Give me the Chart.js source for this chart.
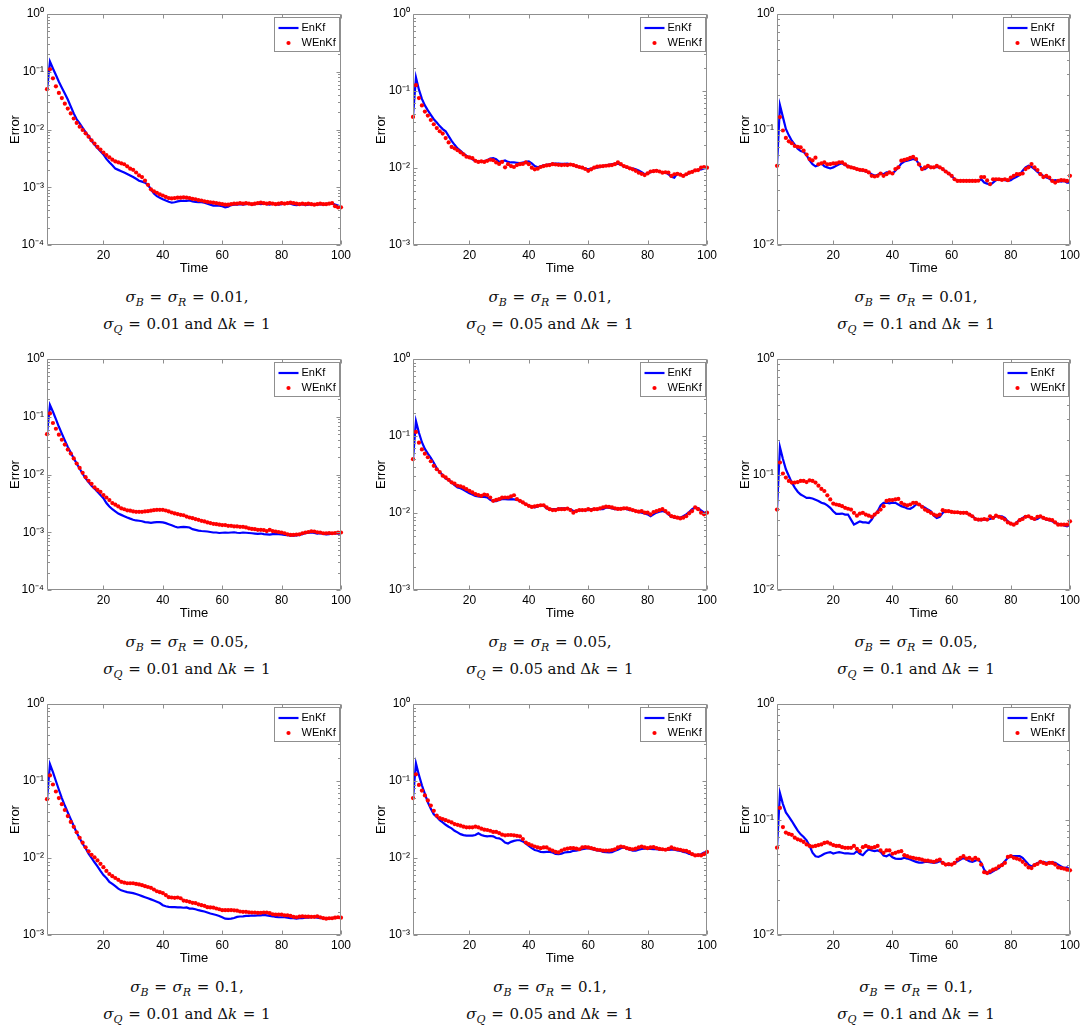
<!DOCTYPE html>
<html lang="en">
<head>
  <meta charset="UTF-8">
  <title>EnKf vs WEnKf error</title>
  <script src="https://cdn.jsdelivr.net/npm/chart.js"></script>
  <style>
    body { margin: 0; background: #fff; }
    #page { position: relative; width: 1082px; height: 1030px; }
    .panel { position: absolute; width: 360px; height: 282px; }
    .cap { position: absolute; width: 360px; text-align: center;
           font-family: "DejaVu Serif", serif; font-size: 15px; line-height: 27px; color: #111; }
    .cap sub { font-size: 11px; vertical-align: -4px; line-height: 0; font-style: italic; }
    .cap .rel { margin: 0 0.38em; }
    .cap .txt { margin: 0 0.3em; }
  </style>
</head>
<body>
<div id="page"></div>
<script>
  // time steps (x axis)
  const time = Array.from({ length: 100 }, (_, i) => i + 1);
  const xTicks = [20, 40, 60, 80, 100];
  const yDecades = [1, 0.1, 0.01, 0.001, 0.0001];
  const yTickLabels = ['10⁰', '10⁻¹', '10⁻²', '10⁻³', '10⁻⁴'];

  // caption parameters
  const sigmaBR = ['0.01', '0.05', '0.1'];   // rows
  const sigmaQ = ['0.01', '0.05', '0.1'];    // columns

  // row 1
  const enkf1 = [0.048,0.15,0.114,0.088,0.067,0.053,0.042,0.033,0.025,0.019,
    0.015,0.0128,0.0107,0.009,0.0076,0.0064,0.0055,0.0048,0.0042,0.0037,
    0.0031,0.0027,0.0024,0.0021,0.002,0.0019,0.0018,0.0017,0.0016,0.0015,
    0.0014,0.0013,0.00125,0.0012,0.0011,0.00092,0.00078,0.0007,0.00066,0.00062,
    0.00059,0.00056,0.00054,0.00055,0.00057,0.00058,0.00058,0.00058,0.00059,0.00057,
    0.00056,0.00055,0.00055,0.00054,0.00052,0.0005,0.00048,0.00048,0.00048,0.00047,
    0.00045,0.00046,0.00049,0.0005,0.0005,0.00051,0.0005,0.00051,0.00052,0.0005,
    0.00051,0.00052,0.00051,0.00052,0.00051,0.0005,0.00052,0.00051,0.0005,0.00051,
    0.00052,0.00053,0.00052,0.0005,0.00049,0.0005,0.00051,0.00049,0.0005,0.00051,
    0.0005,0.0005,0.00051,0.0005,0.00051,0.00052,0.00053,0.0005,0.00048,0.00046];
  const wenkf1 = [0.05,0.11,0.077,0.056,0.043,0.035,0.028,0.023,0.019,0.0155,
    0.013,0.0112,0.0098,0.0086,0.0075,0.0065,0.0057,0.005,0.0045,0.004,
    0.0036,0.0033,0.003,0.0028,0.0027,0.0026,0.0025,0.0023,0.0021,0.002,
    0.0018,0.0016,0.0015,0.0013,0.0011,0.00092,0.00085,0.0008,0.00075,0.00072,
    0.00068,0.00065,0.00064,0.00065,0.00066,0.00066,0.00067,0.00066,0.00065,0.00063,
    0.00062,0.0006,0.00059,0.00057,0.00056,0.00055,0.00054,0.00053,0.00052,0.00051,
    0.0005,0.0005,0.00051,0.00052,0.00052,0.00053,0.00052,0.00053,0.00052,0.00051,
    0.00052,0.00053,0.00054,0.00053,0.00052,0.00053,0.00052,0.00051,0.00052,0.00053,
    0.00052,0.00053,0.00054,0.00053,0.00052,0.00051,0.00052,0.00051,0.00052,0.00051,
    0.0005,0.00051,0.00052,0.00051,0.00051,0.00052,0.00053,0.00047,0.00045,0.00045];

  const enkf2 = [0.047,0.15,0.104,0.079,0.065,0.056,0.049,0.043,0.039,0.035,
    0.032,0.03,0.026,0.0225,0.02,0.018,0.0167,0.0154,0.0145,0.0137,
    0.013,0.0124,0.0123,0.0122,0.0123,0.0126,0.0133,0.0134,0.013,0.012,
    0.0122,0.0125,0.012,0.0118,0.0118,0.0117,0.0116,0.0118,0.012,0.0122,
    0.0115,0.0106,0.0102,0.0105,0.0108,0.011,0.0112,0.0114,0.0114,0.0114,
    0.0113,0.0113,0.0114,0.0112,0.011,0.0105,0.0103,0.0101,0.0098,0.0096,
    0.0098,0.0101,0.0101,0.0103,0.0106,0.0108,0.011,0.0112,0.0113,0.0114,
    0.011,0.0105,0.0101,0.01,0.0098,0.0096,0.0093,0.0088,0.0083,0.0085,
    0.0088,0.0091,0.0093,0.009,0.0087,0.0088,0.0083,0.0077,0.0075,0.0085,
    0.0082,0.0079,0.0082,0.0086,0.0091,0.0093,0.0095,0.0096,0.0099,0.0101];
  const wenkf2 = [0.046,0.119,0.081,0.065,0.054,0.048,0.042,0.037,0.033,0.03,
    0.028,0.0245,0.0215,0.0188,0.018,0.017,0.016,0.015,0.014,0.0137,
    0.0134,0.0124,0.012,0.0122,0.012,0.0124,0.0128,0.0126,0.0118,0.0113,
    0.012,0.0102,0.0112,0.0106,0.0103,0.0109,0.0112,0.0113,0.0118,0.0112,
    0.0101,0.0096,0.0098,0.0103,0.0106,0.0108,0.0109,0.0112,0.0111,0.011,
    0.0109,0.011,0.0109,0.0111,0.0109,0.0106,0.0103,0.0101,0.0097,0.0092,
    0.0096,0.0101,0.0104,0.0105,0.0106,0.0107,0.0108,0.0109,0.0112,0.0118,
    0.0112,0.0106,0.0103,0.0099,0.0096,0.0092,0.0087,0.0084,0.0081,0.0085,
    0.009,0.0091,0.0092,0.009,0.0087,0.0088,0.0087,0.0079,0.0083,0.0084,
    0.0082,0.0079,0.0083,0.0087,0.0089,0.0093,0.0094,0.0101,0.0103,0.0101];

  const enkf3 = [0.0485,0.162,0.128,0.101,0.089,0.08,0.074,0.068,0.065,0.064,
    0.06,0.054,0.05,0.048,0.049,0.051,0.048,0.047,0.046,0.047,
    0.0485,0.05,0.051,0.049,0.0485,0.047,0.0464,0.0454,0.0445,0.0439,
    0.0433,0.0425,0.041,0.0397,0.0405,0.0416,0.041,0.0425,0.0425,0.0416,
    0.0439,0.047,0.0508,0.0528,0.0537,0.0545,0.0555,0.0545,0.0502,0.0454,
    0.0454,0.0475,0.0475,0.047,0.0475,0.047,0.0454,0.0433,0.0416,0.0397,
    0.0371,0.0359,0.0359,0.036,0.0359,0.036,0.0359,0.036,0.0359,0.0371,
    0.0347,0.034,0.0331,0.0347,0.0364,0.0367,0.0371,0.0364,0.0359,0.0364,
    0.0379,0.039,0.0405,0.0439,0.047,0.0485,0.0475,0.0454,0.043,0.0412,
    0.0397,0.0384,0.0376,0.0359,0.0364,0.0359,0.0354,0.0359,0.0347,0.0347];
  const wenkf3 = [0.0485,0.128,0.098,0.0846,0.079,0.076,0.072,0.0709,0.07,0.0656,
    0.0606,0.0555,0.054,0.057,0.05,0.051,0.052,0.05,0.0502,0.0508,
    0.0508,0.052,0.052,0.05,0.0478,0.047,0.0464,0.0454,0.0448,0.0445,
    0.0439,0.0425,0.0397,0.0392,0.0397,0.0416,0.0397,0.041,0.0425,0.0416,
    0.0454,0.047,0.0537,0.0545,0.0555,0.0567,0.058,0.0555,0.0498,0.0454,
    0.047,0.0485,0.047,0.047,0.0485,0.047,0.0454,0.0433,0.0416,0.0397,
    0.0371,0.0359,0.0359,0.0359,0.0359,0.0359,0.0359,0.0359,0.036,0.0387,
    0.0387,0.0362,0.0337,0.0371,0.0371,0.0371,0.0366,0.0371,0.0364,0.0384,
    0.0397,0.041,0.041,0.0416,0.0454,0.047,0.0502,0.047,0.0445,0.041,
    0.0387,0.0397,0.0384,0.0359,0.0347,0.0359,0.0364,0.0362,0.0359,0.0397];

  // row 2
  const enkf4 = [0.051,0.16,0.122,0.091,0.067,0.051,0.039,0.03,0.024,0.019,
    0.0155,0.0126,0.0103,0.0086,0.0074,0.0064,0.0057,0.005,0.0044,0.0039,
    0.0032,0.0028,0.0025,0.0023,0.0021,0.002,0.0019,0.0018,0.00172,0.00165,
    0.0016,0.00158,0.00155,0.0015,0.00148,0.00145,0.00148,0.0015,0.0015,0.00148,
    0.00144,0.00138,0.00132,0.00126,0.00121,0.00123,0.00124,0.00123,0.00121,0.00113,
    0.0011,0.00107,0.00105,0.00104,0.00103,0.00101,0.00099,0.00099,0.00097,0.00098,
    0.00099,0.00098,0.00099,0.001,0.00098,0.00097,0.00099,0.00098,0.00097,0.00096,
    0.00095,0.00094,0.00095,0.00093,0.00092,0.00091,0.00093,0.00094,0.00093,0.00092,
    0.0009,0.00089,0.00087,0.00087,0.00088,0.0009,0.00093,0.00096,0.00098,0.00099,
    0.00097,0.00095,0.00096,0.00094,0.00092,0.00093,0.00095,0.00096,0.00095,0.00096];
  const wenkf4 = [0.05,0.114,0.078,0.062,0.049,0.04,0.033,0.027,0.023,0.019,
    0.0155,0.013,0.0107,0.009,0.0078,0.0069,0.006,0.0054,0.005,0.0044,
    0.004,0.0036,0.0032,0.003,0.0028,0.0026,0.0025,0.0024,0.00236,0.00229,
    0.00226,0.00226,0.00226,0.00229,0.00232,0.00236,0.00241,0.00245,0.00245,0.00245,
    0.00238,0.00229,0.0022,0.00212,0.00206,0.002,0.00197,0.00187,0.0018,0.00175,
    0.00169,0.00164,0.00158,0.00154,0.00148,0.00144,0.0014,0.00138,0.00135,0.00133,
    0.00133,0.00129,0.00129,0.00126,0.00126,0.00124,0.00124,0.00121,0.00117,0.00114,
    0.00113,0.0011,0.0011,0.00109,0.00105,0.0011,0.00105,0.00103,0.00101,0.00099,
    0.00096,0.00092,0.0009,0.0009,0.00091,0.00092,0.00096,0.00099,0.00101,0.00104,
    0.00103,0.001,0.00099,0.00096,0.00096,0.00097,0.00096,0.00097,0.00099,0.00099];

  const enkf5 = [0.05,0.156,0.11,0.083,0.068,0.059,0.052,0.045,0.038,0.034,
    0.031,0.028,0.027,0.025,0.023,0.0215,0.021,0.02,0.019,0.018,
    0.0174,0.0167,0.0164,0.0162,0.0162,0.0159,0.0148,0.0142,0.0142,0.0148,
    0.0151,0.0151,0.015,0.0151,0.015,0.0148,0.0144,0.0137,0.013,0.0124,
    0.012,0.0118,0.0122,0.0126,0.0126,0.0114,0.0112,0.0112,0.0112,0.0114,
    0.0115,0.0115,0.0114,0.0112,0.0106,0.0106,0.0108,0.0109,0.0109,0.0109,
    0.0112,0.0112,0.0112,0.0112,0.0112,0.0118,0.0117,0.0115,0.0112,0.0112,
    0.0114,0.0114,0.0112,0.0109,0.0109,0.0106,0.0103,0.0101,0.0099,0.0096,
    0.0091,0.0096,0.0101,0.0104,0.0106,0.0103,0.0096,0.009,0.0087,0.0087,
    0.0087,0.0091,0.0096,0.0103,0.0112,0.0118,0.0116,0.0108,0.0101,0.0101];
  const wenkf5 = [0.05,0.113,0.082,0.067,0.059,0.053,0.047,0.041,0.037,0.034,
    0.0305,0.029,0.027,0.025,0.024,0.0226,0.0222,0.0215,0.0204,0.0194,
    0.0185,0.0176,0.0171,0.0167,0.0174,0.0171,0.0159,0.0144,0.0148,0.0151,
    0.0158,0.0159,0.0159,0.0164,0.017,0.0151,0.0144,0.0137,0.013,0.0124,
    0.012,0.0122,0.0124,0.0126,0.0126,0.0118,0.0112,0.0109,0.0109,0.0112,
    0.0112,0.0112,0.0114,0.0109,0.0101,0.0106,0.0109,0.0109,0.0109,0.0112,
    0.0109,0.0112,0.0112,0.0115,0.0118,0.0121,0.012,0.0118,0.0115,0.0113,
    0.0113,0.0115,0.0115,0.0112,0.0109,0.0106,0.0104,0.0106,0.0101,0.0101,
    0.0096,0.0103,0.0106,0.0109,0.0112,0.0106,0.0099,0.0091,0.0089,0.0087,
    0.0085,0.0087,0.0091,0.0099,0.0106,0.0118,0.0112,0.0101,0.0096,0.0101];

  const enkf6 = [0.0497,0.172,0.136,0.111,0.097,0.0851,0.077,0.071,0.067,0.065,
    0.0627,0.0627,0.062,0.0605,0.059,0.0569,0.056,0.054,0.0515,0.0481,
    0.0456,0.0456,0.0459,0.045,0.045,0.0407,0.0368,0.038,0.0393,0.0385,
    0.0385,0.038,0.0407,0.045,0.0481,0.054,0.0569,0.0569,0.0562,0.0569,
    0.0569,0.055,0.0532,0.0522,0.0508,0.0505,0.0522,0.055,0.055,0.0532,
    0.0515,0.0497,0.0481,0.044,0.0421,0.043,0.0466,0.0481,0.0481,0.0474,
    0.0471,0.0471,0.0466,0.0466,0.0466,0.045,0.0435,0.0415,0.0402,0.0402,
    0.0407,0.0407,0.0412,0.0421,0.0435,0.0435,0.0435,0.0421,0.0393,0.0375,
    0.0368,0.0385,0.0407,0.0421,0.0435,0.043,0.0421,0.0407,0.0412,0.043,
    0.0421,0.0407,0.0402,0.0393,0.038,0.0375,0.0368,0.0363,0.0356,0.0368];
  const wenkf6 = [0.0497,0.127,0.102,0.094,0.088,0.0851,0.0851,0.086,0.088,0.088,
    0.086,0.089,0.088,0.0851,0.08,0.075,0.072,0.066,0.0609,0.056,
    0.055,0.0543,0.0532,0.0515,0.0505,0.0497,0.0466,0.044,0.0459,0.0466,
    0.045,0.044,0.043,0.045,0.0471,0.0497,0.0532,0.059,0.06,0.06,
    0.0609,0.0615,0.0569,0.055,0.054,0.055,0.0569,0.0569,0.055,0.0525,
    0.0497,0.0481,0.0466,0.045,0.044,0.045,0.0491,0.0481,0.0481,0.0474,
    0.0471,0.0471,0.0466,0.0466,0.0466,0.045,0.0435,0.0412,0.0407,0.0407,
    0.0412,0.0407,0.0435,0.0421,0.044,0.043,0.0421,0.0407,0.0385,0.0375,
    0.0368,0.038,0.0402,0.0412,0.043,0.0435,0.0421,0.0412,0.043,0.0435,
    0.0421,0.0412,0.0407,0.0402,0.0385,0.0368,0.0368,0.0368,0.0368,0.0393];

  // row 3
  const enkf7 = [0.058,0.165,0.13,0.1,0.077,0.06,0.048,0.039,0.032,0.026,
    0.0213,0.018,0.0153,0.0134,0.0114,0.01,0.0088,0.0078,0.0068,0.006,
    0.0055,0.0049,0.0046,0.0043,0.004,0.0038,0.0037,0.0036,0.00355,0.0035,
    0.0034,0.0033,0.0032,0.0031,0.003,0.0029,0.0028,0.0027,0.0026,0.00244,
    0.00236,0.00232,0.0023,0.0023,0.00228,0.00228,0.00226,0.00228,0.0022,0.0022,
    0.00216,0.0021,0.00206,0.00202,0.00196,0.0019,0.00186,0.00182,0.00177,0.0017,
    0.00163,0.00162,0.00163,0.00166,0.00172,0.00174,0.00175,0.00177,0.00177,0.00179,
    0.00179,0.0018,0.0018,0.00182,0.0018,0.00177,0.00175,0.00172,0.0017,0.0017,
    0.0017,0.00168,0.00166,0.00165,0.00163,0.00165,0.00166,0.00168,0.00168,0.0017,
    0.0017,0.00168,0.00166,0.00166,0.00165,0.00165,0.00166,0.00168,0.00168,0.00168];
  const wenkf7 = [0.058,0.118,0.09,0.073,0.06,0.05,0.042,0.035,0.0294,0.0254,
    0.0216,0.0183,0.0158,0.0138,0.0122,0.011,0.0102,0.0093,0.0084,0.0076,
    0.0068,0.0062,0.0058,0.0055,0.0052,0.0049,0.0048,0.0047,0.0047,0.0047,
    0.0046,0.00454,0.00444,0.0043,0.0042,0.0041,0.0039,0.0037,0.0036,0.0035,
    0.0033,0.0031,0.00307,0.00304,0.00307,0.003,0.0028,0.00276,0.0027,0.00262,
    0.0026,0.0025,0.00244,0.00239,0.0023,0.00228,0.00227,0.00221,0.00216,0.0021,
    0.0021,0.0021,0.00211,0.00209,0.00207,0.00202,0.002,0.002,0.00197,0.00196,
    0.00196,0.00194,0.00194,0.00196,0.00196,0.00192,0.00186,0.00184,0.00184,0.00184,
    0.0018,0.0018,0.00177,0.00172,0.0017,0.00173,0.00175,0.00173,0.00173,0.00172,
    0.00172,0.00175,0.0017,0.00166,0.00163,0.00165,0.00165,0.00168,0.0017,0.00168];

  const enkf8 = [0.06,0.169,0.119,0.088,0.068,0.053,0.0435,0.037,0.034,0.031,
    0.029,0.027,0.0255,0.0243,0.0226,0.0215,0.0204,0.0198,0.0195,0.0195,
    0.0195,0.0199,0.021,0.0199,0.0194,0.0191,0.0193,0.0191,0.0182,0.018,
    0.0172,0.0159,0.0154,0.0162,0.0167,0.017,0.017,0.0164,0.0154,0.0144,
    0.0134,0.0127,0.0124,0.012,0.0119,0.012,0.012,0.0118,0.0113,0.0112,
    0.0114,0.0118,0.0119,0.012,0.0124,0.0125,0.0127,0.013,0.0132,0.0134,
    0.0131,0.0128,0.0125,0.0124,0.012,0.0119,0.0118,0.0119,0.0124,0.0128,
    0.0134,0.0137,0.0132,0.0128,0.0125,0.0125,0.0128,0.0131,0.0132,0.0132,
    0.0131,0.013,0.013,0.0128,0.0128,0.0128,0.0127,0.0128,0.0128,0.0125,
    0.0124,0.012,0.0118,0.0113,0.0112,0.0109,0.0109,0.0112,0.0118,0.012];
  const wenkf8 = [0.06,0.122,0.089,0.075,0.065,0.056,0.048,0.041,0.0355,0.033,
    0.032,0.031,0.03,0.029,0.0276,0.027,0.0263,0.0255,0.025,0.025,
    0.025,0.0255,0.025,0.024,0.0233,0.0231,0.0226,0.0218,0.0218,0.0211,
    0.0201,0.0197,0.0199,0.0199,0.0197,0.0194,0.0191,0.0176,0.0159,0.0151,
    0.0146,0.0141,0.0137,0.0134,0.0137,0.0137,0.013,0.0125,0.012,0.0118,
    0.0125,0.013,0.0132,0.0134,0.0134,0.0132,0.013,0.0137,0.0139,0.0137,
    0.0134,0.0131,0.0128,0.0127,0.0125,0.0125,0.0125,0.0127,0.013,0.0137,
    0.0141,0.0139,0.0134,0.0131,0.013,0.0132,0.0137,0.0141,0.0137,0.0134,
    0.0137,0.0139,0.0134,0.0131,0.013,0.0128,0.0131,0.0137,0.0132,0.013,
    0.0128,0.0125,0.0124,0.0119,0.0112,0.0108,0.0109,0.0108,0.0112,0.012];

  const enkf9 = [0.057,0.169,0.136,0.115,0.106,0.097,0.088,0.08,0.0744,0.0706,
    0.066,0.0593,0.0515,0.0481,0.0474,0.0488,0.0505,0.0515,0.0522,0.0508,
    0.0515,0.0522,0.0515,0.0508,0.0508,0.0505,0.0505,0.0532,0.0505,0.0491,
    0.0526,0.055,0.054,0.0532,0.054,0.0526,0.0488,0.0481,0.0497,0.0471,
    0.0459,0.0456,0.0456,0.0466,0.0459,0.045,0.044,0.043,0.0424,0.0424,
    0.043,0.043,0.0424,0.0421,0.0424,0.0435,0.0426,0.0407,0.0402,0.0407,
    0.0421,0.0435,0.045,0.0466,0.045,0.0435,0.043,0.044,0.045,0.0421,
    0.0368,0.0344,0.0344,0.0356,0.0368,0.038,0.0407,0.0435,0.0466,0.0481,
    0.0481,0.0481,0.0481,0.0466,0.0435,0.0407,0.0393,0.0407,0.0421,0.043,
    0.043,0.0421,0.0426,0.0426,0.0421,0.0407,0.0393,0.038,0.0385,0.0368];
  const wenkf9 = [0.057,0.126,0.086,0.077,0.075,0.0737,0.0696,0.0674,0.066,0.064,
    0.0609,0.059,0.0584,0.059,0.06,0.0609,0.0627,0.0635,0.0617,0.06,
    0.059,0.059,0.0576,0.0569,0.0569,0.0569,0.059,0.0557,0.0532,0.0576,
    0.059,0.0576,0.0569,0.0576,0.059,0.054,0.0515,0.054,0.054,0.0505,
    0.0515,0.0526,0.0532,0.0491,0.0481,0.0471,0.0466,0.0459,0.0456,0.045,
    0.044,0.044,0.0435,0.043,0.044,0.045,0.0421,0.0407,0.0412,0.0407,
    0.0421,0.045,0.0466,0.0481,0.0459,0.0466,0.045,0.0466,0.045,0.0407,
    0.035,0.0344,0.0356,0.0368,0.0375,0.0393,0.0402,0.0421,0.0474,0.0481,
    0.0466,0.0459,0.045,0.043,0.0407,0.0385,0.038,0.0402,0.0412,0.043,
    0.0421,0.0412,0.0421,0.0421,0.0407,0.0385,0.038,0.0375,0.0368,0.0363];

  const panels = [
    { enkf: enkf1, wenkf: wenkf1, yMin: 1e-4 },
    { enkf: enkf2, wenkf: wenkf2, yMin: 1e-3 },
    { enkf: enkf3, wenkf: wenkf3, yMin: 1e-2 },
    { enkf: enkf4, wenkf: wenkf4, yMin: 1e-4 },
    { enkf: enkf5, wenkf: wenkf5, yMin: 1e-3 },
    { enkf: enkf6, wenkf: wenkf6, yMin: 1e-2 },
    { enkf: enkf7, wenkf: wenkf7, yMin: 1e-3 },
    { enkf: enkf8, wenkf: wenkf8, yMin: 1e-3 },
    { enkf: enkf9, wenkf: wenkf9, yMin: 1e-2 }
  ];

  // page geometry
  const colLeft = [0, 366, 730];
  const rowTop = [0, 345, 690];
  const colCenter = [187, 550, 916];
  const axisW = 47, plotW = [294, 294, 293], plotTop = 14, plotH = 231;
  const canvasW = 360, canvasH = 282;

  const axisGray = '#8f8f8f';

  // MATLAB-like box, inward ticks and boxed legend
  const matlabFrame = {
    id: 'matlabFrame',
    afterDraw(chart) {
      const { ctx, chartArea: a, scales: { x, y } } = chart;
      ctx.save();
      ctx.lineWidth = 1;
      ctx.strokeStyle = axisGray;
      const L = a.left + 0.5, R = Math.round(a.right) - 0.5, T = a.top + 0.5, B = Math.round(a.bottom) - 0.5;
      ctx.beginPath();
      ctx.moveTo(L, T); ctx.lineTo(R, T); ctx.lineTo(R, B); ctx.lineTo(L, B); ctx.closePath();
      ctx.stroke();

      ctx.beginPath();
      y.ticks.forEach(t => {
        const py = Math.round(y.getPixelForValue(t.value)) + 0.5;
        ctx.moveTo(L, py); ctx.lineTo(L + 4, py);
        ctx.moveTo(R, py); ctx.lineTo(R - 4, py);
        for (let k = 2; k <= 9; k++) {
          const v = t.value * k;
          if (v >= y.max) break;
          const pm = Math.round(y.getPixelForValue(v)) + 0.5;
          ctx.moveTo(L, pm); ctx.lineTo(L + 2.5, pm);
          ctx.moveTo(R, pm); ctx.lineTo(R - 2.5, pm);
        }
      });
      x.ticks.forEach(t => {
        const px = Math.round(x.getPixelForValue(t.value)) + 0.5;
        ctx.moveTo(px, B); ctx.lineTo(px, B - 4);
        ctx.moveTo(px, T); ctx.lineTo(px, T + 4);
      });
      ctx.stroke();

      // legend box in the upper right of the plot
      const ds = chart.data.datasets;
      const bw = 65, bh = 34;
      const bx = Math.round(a.right) - bw - 1.5, by = a.top + 3.5;
      ctx.fillStyle = '#fff';
      ctx.fillRect(bx, by, bw, bh);
      ctx.strokeStyle = axisGray;
      ctx.strokeRect(bx, by, bw, bh);
      ctx.font = '11px "Liberation Sans", Arial, sans-serif';
      ctx.textBaseline = 'middle';
      ctx.fillStyle = '#000';
      const y1 = by + 10.5, y2 = by + 25.5;
      ctx.strokeStyle = ds[0].borderColor;
      ctx.lineWidth = ds[0].borderWidth;
      ctx.beginPath(); ctx.moveTo(bx + 4, y1); ctx.lineTo(bx + 24, y1); ctx.stroke();
      ctx.fillStyle = ds[1].backgroundColor;
      ctx.beginPath(); ctx.arc(bx + 14, y2, ds[1].pointRadius, 0, Math.PI * 2); ctx.fill();
      ctx.fillStyle = '#000';
      ctx.fillText(ds[0].label, bx + 27, y1);
      ctx.fillText(ds[1].label, bx + 27, y2);
      ctx.restore();
    }
  };

  const page = document.getElementById('page');

  panels.forEach((p, i) => {
    const r = Math.floor(i / 3), c = i % 3;
    const wrap = document.createElement('div');
    wrap.className = 'panel';
    wrap.style.left = colLeft[c] + 'px';
    wrap.style.top = rowTop[r] + 'px';
    const canvas = document.createElement('canvas');
    canvas.width = canvasW;
    canvas.height = canvasH;
    wrap.appendChild(canvas);
    page.appendChild(wrap);

    new Chart(canvas.getContext('2d'), {
      type: 'line',
      data: {
        datasets: [
          {
            label: 'EnKf',
            data: time.map((t, k) => ({ x: t, y: p.enkf[k] })),
            borderColor: '#0000ff',
            borderWidth: 2.2,
            pointRadius: 0,
            fill: false,
            tension: 0,
            order: 2
          },
          {
            label: 'WEnKf',
            data: time.map((t, k) => ({ x: t, y: p.wenkf[k] })),
            showLine: false,
            backgroundColor: '#ff0000',
            borderColor: '#ff0000',
            pointRadius: 2.1,
            pointBorderWidth: 0,
            clip: false,
            order: 1
          }
        ]
      },
      options: {
        responsive: false,
        animation: false,
        devicePixelRatio: 1,
        layout: { padding: { left: 0, right: canvasW - axisW - plotW[c], top: plotTop, bottom: 0 } },
        plugins: { legend: { display: false }, tooltip: { enabled: false } },
        scales: {
          x: {
            type: 'linear',
            position: 'bottom',
            min: 1,
            max: 100,
            afterBuildTicks: s => { s.ticks = xTicks.map(v => ({ value: v })); },
            afterFit: s => { s.height = canvasH - plotTop - plotH; },
            grid: { display: false, drawTicks: false },
            border: { display: false },
            ticks: { padding: 3, color: '#000', font: { family: '"Liberation Sans", Arial, sans-serif', size: 12 } },
            title: { display: true, text: 'Time', color: '#000', padding: { top: 0, bottom: 6 },
                     font: { family: '"Liberation Sans", Arial, sans-serif', size: 13 } }
          },
          y: {
            type: 'logarithmic',
            min: p.yMin,
            max: 1,
            afterBuildTicks: s => { s.ticks = yDecades.filter(v => v >= p.yMin).map(v => ({ value: v, major: true })); },
            afterFit: s => { s.width = axisW; },
            grid: { display: false, drawTicks: false },
            border: { display: false },
            ticks: {
              autoSkip: false,
              padding: 3,
              color: '#000',
              font: { family: '"Liberation Sans", Arial, sans-serif', size: 12 },
              callback: v => yTickLabels[yDecades.indexOf(v)]
            },
            title: { display: true, text: 'Error', color: '#000', padding: { top: 8, bottom: 0 },
                     font: { family: '"Liberation Sans", Arial, sans-serif', size: 13 } }
          }
        }
      },
      plugins: [matlabFrame]
    });

    // caption under each panel
    const cap = document.createElement('div');
    cap.className = 'cap';
    cap.style.left = (colCenter[c] - 180) + 'px';
    cap.style.top = (rowTop[r] + 284) + 'px';
    cap.innerHTML =
      '<div><i>σ</i><sub>B</sub><span class="rel">=</span><i>σ</i><sub>R</sub><span class="rel">=</span>' + sigmaBR[r] + ',</div>' +
      '<div><i>σ</i><sub>Q</sub><span class="rel">=</span>' + sigmaQ[c] + '<span class="txt">and</span>Δ<i>k</i><span class="rel">=</span>1</div>';
    page.appendChild(cap);
  });
</script>
</body>
</html>
